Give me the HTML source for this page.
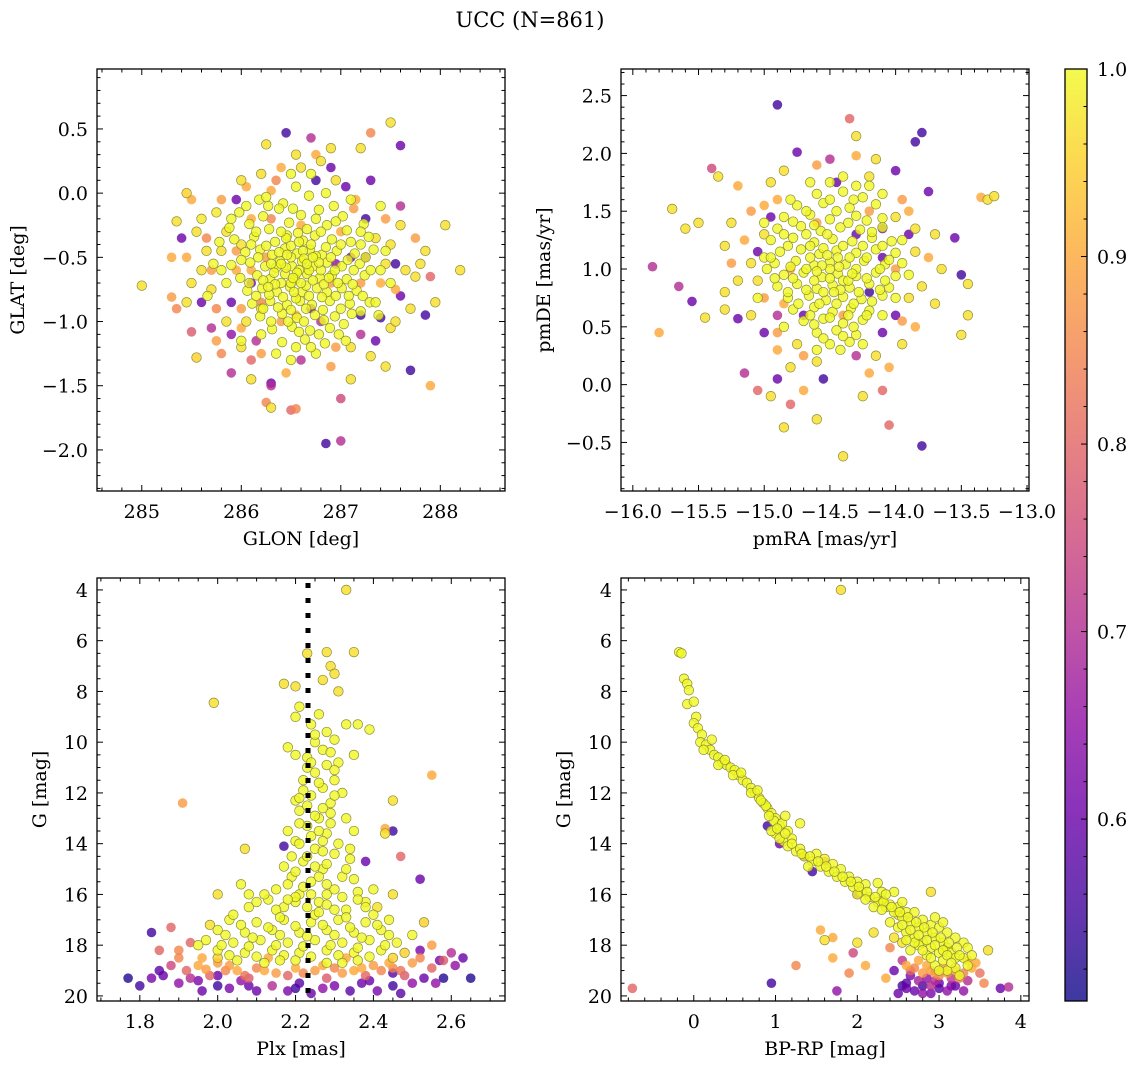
<!DOCTYPE html>
<html><head><meta charset="utf-8"><style>
body{margin:0;background:#fff}
svg{display:block;font-family:"DejaVu Serif","Liberation Serif",serif}
</style></head><body>
<svg id="fig" width="1136" height="1068" viewBox="0 0 1136 1068" xmlns="http://www.w3.org/2000/svg">
<text x="530" y="27" font-size="21" text-anchor="middle">UCC (N=861)</text>
</svg>
<script>
// ---------- DATA: [x, y, membership probability] ----------
const glonGlatOutliers=[[285.0,-0.72,.97],[285.3,-0.81,.88],[285.35,-0.9,.85],[285.5,-1.08,.78],[285.55,-1.28,.95],[285.45,-0.5,.9],[285.4,-0.35,.6],[285.45,0.0,.95],[285.5,-0.05,.9],[285.35,-0.22,.97],[285.6,-0.2,.98],[285.7,-1.05,.7],[285.8,-1.25,.85],[285.75,-0.15,.98],[285.9,-1.4,.7],[286.0,-1.2,.97],[286.0,0.1,.97],[286.1,-1.3,.8],[286.2,0.15,.97],[286.3,-1.5,.7],[286.3,-1.67,.97],[286.25,-1.63,.85],[286.25,0.38,.97],[286.45,0.47,.55],[286.3,-1.48,.6],[286.5,-1.69,.8],[286.55,-1.68,.85],[286.55,0.3,.97],[286.7,0.43,.7],[286.6,0.2,.97],[286.75,0.3,.9],[286.8,0.25,.97],[286.85,-1.95,.55],[286.95,0.1,.97],[287.0,-1.93,.7],[287.0,-1.6,.75],[287.05,0.05,.6],[287.1,-1.2,.97],[287.2,-0.95,.55],[287.2,0.35,.97],[287.3,0.47,.85],[287.3,-1.27,.97],[287.3,0.1,.6],[287.5,0.55,.97],[287.6,0.37,.6],[287.4,-0.97,.55],[287.5,-1.05,.97],[287.45,-1.35,.97],[287.55,-1.0,.97],[287.7,-1.38,.55],[287.75,-0.65,.97],[287.8,-0.55,.97],[287.85,-0.95,.55],[287.9,-1.5,.9],[287.85,-0.45,.97],[287.95,-0.85,.97],[288.05,-0.25,.97],[288.2,-0.6,.97],[287.6,-0.1,.7],[287.5,-0.4,.97],[287.6,-0.8,.6],[287.7,-0.9,.97],[287.4,-0.7,.9],[287.25,-0.2,.55],[287.35,-0.35,.97],[285.6,-0.6,.97],[285.7,-0.75,.97],[285.8,-0.45,.97],[285.9,-0.85,.6],[285.85,-0.3,.97],[285.95,-0.6,.9],[285.65,-0.45,.97],[285.75,-0.9,.85],[285.5,-0.7,.97],[285.55,-0.3,.97],[286.05,-1.0,.97],[286.1,-0.2,.9],[286.15,-1.15,.7],[286.0,-0.4,.97],[286.2,-0.9,.97],[286.1,-0.7,.6],[285.3,-0.5,.9],[285.45,-0.85,.97],[287.6,-0.25,.97],[287.45,-0.55,.97],[287.2,-1.1,.7],[286.0,-1.05,.9],[285.85,-1.0,.97],[287.65,-0.6,.97],[286.9,0.2,.6],[285.65,-0.35,.85],[285.8,-0.05,.88],[285.95,-0.05,.6],[286.05,0.05,.9],[286.35,0.1,.85],[286.75,0.1,.55],[287.15,-0.05,.9],[287.25,-0.5,.6],[287.45,-0.2,.88],[287.55,-0.75,.9],[287.35,-1.15,.6],[286.95,-1.2,.88],[286.6,-1.3,.7],[286.2,-1.25,.88],[285.9,-1.1,.65],[285.7,-0.6,.88],[285.75,-1.15,.88],[286.45,-1.4,.9],[286.9,-1.35,.88],[287.1,-1.45,.97],[287.75,-0.35,.88],[287.9,-0.65,.8],[286.1,-1.45,.97],[285.6,-0.85,.6],[287.55,-0.55,.55],[286.9,0.35,.97],[286.4,0.2,.9]];
const glonGlatCore=[[286.18,-0.05,1],[286.42,-0.08,1],[286.68,-0.02,1],[286.93,-0.1,1],[286.55,0.05,1],[286.3,0.02,.9],[285.98,-0.15,1],[286.22,-0.18,1],[286.38,-0.12,1],[286.6,-0.17,1],[286.78,-0.13,1],[287.02,-0.18,1],[287.13,-0.12,.88],[285.88,-0.27,1],[286.08,-0.24,1],[286.28,-0.28,1],[286.48,-0.23,1],[286.66,-0.28,1],[286.86,-0.25,1],[287.06,-0.29,1],[287.23,-0.24,1],[285.93,-0.36,1],[286.13,-0.34,1],[286.34,-0.38,1],[286.46,-0.33,1],[286.62,-0.37,1],[286.74,-0.33,1],[286.91,-0.36,1],[287.1,-0.38,1],[287.28,-0.34,1],[286.04,-0.46,1],[286.19,-0.44,1],[286.31,-0.48,1],[286.44,-0.43,1],[286.56,-0.47,1],[286.69,-0.44,1],[286.81,-0.48,1],[286.96,-0.45,1],[287.14,-0.47,1],[287.33,-0.44,1],[285.9,-0.56,1],[286.09,-0.54,1],[286.24,-0.57,1],[286.39,-0.53,1],[286.51,-0.57,1],[286.61,-0.53,1],[286.72,-0.57,1],[286.86,-0.54,1],[287.01,-0.57,1],[287.19,-0.55,1],[285.99,-0.66,1],[286.16,-0.64,1],[286.29,-0.67,1],[286.44,-0.63,1],[286.54,-0.67,1],[286.66,-0.63,1],[286.79,-0.66,1],[286.91,-0.64,1],[287.06,-0.67,1],[287.24,-0.64,1],[286.06,-0.76,1],[286.21,-0.74,1],[286.36,-0.77,1],[286.49,-0.73,1],[286.61,-0.77,1],[286.76,-0.74,1],[286.86,-0.77,1],[287.01,-0.74,1],[287.16,-0.76,1],[286.11,-0.86,1],[286.29,-0.84,1],[286.46,-0.87,1],[286.59,-0.84,1],[286.71,-0.87,1],[286.89,-0.84,1],[287.09,-0.86,1],[287.29,-0.85,1],[286.19,-0.96,1],[286.41,-0.94,1],[286.56,-0.97,1],[286.74,-0.95,1],[286.94,-0.96,1],[287.11,-0.94,1],[286.31,-1.06,1],[286.51,-1.04,1],[286.69,-1.07,1],[286.89,-1.05,1],[286.41,-1.16,1],[286.64,-1.14,1],[286.84,-1.17,1],[286.5,-0.5,1],[286.58,-0.6,1],[286.65,-0.72,1],[286.4,-0.7,1],[286.7,-0.4,1],[286.35,-0.58,1],[286.8,-0.6,1],[286.55,-0.82,1],[286.45,-0.35,1],[286.62,-0.45,1],[286.25,-0.5,.88],[286.9,-0.7,.88],[286.2,-0.85,.85],[287.0,-0.3,.9],[286.4,-1.0,.88],[286.7,-0.9,.6],[286.95,-0.55,.65],[286.1,-0.6,.9],[286.55,-0.95,.9],[287.2,-0.7,.88],[286.6,-0.25,.9],[286.0,-0.9,.88],[286.3,-0.2,.85],[286.8,-1.0,.7],[287.1,-0.5,.6],[285.95,-0.45,.88],[286.35,-1.25,1],[286.75,-1.25,1],[286.5,-1.3,1],[286.05,-0.1,1],[286.85,0.0,1],[287.4,-0.6,1],[287.35,-0.85,1],[285.8,-0.6,1],[285.85,-0.7,1]];
const glonGlatCore2=[[286.27,-0.1,1],[286.52,-0.12,1],[286.75,-0.2,1],[286.95,-0.22,1],[286.15,-0.3,1],[286.4,-0.3,1],[286.57,-0.31,1],[286.8,-0.3,1],[287.0,-0.4,1],[287.2,-0.4,1],[286.1,-0.4,1],[286.25,-0.41,1],[286.38,-0.46,1],[286.5,-0.41,1],[286.63,-0.51,1],[286.75,-0.49,1],[286.9,-0.5,1],[287.07,-0.52,1],[287.25,-0.5,1],[286.0,-0.52,1],[286.17,-0.5,1],[286.3,-0.55,1],[286.45,-0.58,1],[286.56,-0.62,1],[286.68,-0.6,1],[286.78,-0.54,1],[286.94,-0.6,1],[287.13,-0.6,1],[287.3,-0.6,1],[286.08,-0.7,1],[286.22,-0.68,1],[286.34,-0.71,1],[286.5,-0.7,1],[286.6,-0.7,1],[286.72,-0.68,1],[286.83,-0.71,1],[286.97,-0.7,1],[287.12,-0.71,1],[286.15,-0.8,1],[286.28,-0.79,1],[286.42,-0.81,1],[286.53,-0.77,1],[286.68,-0.8,1],[286.81,-0.81,1],[286.95,-0.8,1],[287.08,-0.8,1],[287.22,-0.8,1],[286.22,-0.9,1],[286.37,-0.89,1],[286.5,-0.91,1],[286.65,-0.9,1],[286.82,-0.91,1],[287.0,-0.9,1],[287.2,-0.92,1],[286.3,-1.0,1],[286.47,-1.0,1],[286.63,-1.0,1],[286.83,-0.99,1],[287.03,-1.02,1],[286.58,-1.08,1],[286.78,-1.1,1],[286.98,-1.1,1],[286.2,-1.1,1],[286.55,-1.2,1],[286.7,-1.2,1],[287.2,-0.3,1],[285.9,-0.2,1],[285.78,-0.38,1],[285.72,-0.55,1],[285.66,-0.8,1],[287.45,-0.45,1],[287.5,-0.7,1],[287.38,-0.95,1],[286.0,-1.15,1],[287.05,-1.15,1],[286.5,0.15,1],[286.7,0.15,1],[286.25,-0.03,1],[287.1,-0.05,1],[287.4,-0.1,1],[286.4,-0.55,1],[286.66,-0.55,1],[286.52,-0.66,1],[286.46,-0.48,1],[286.72,-0.5,1],[286.58,-0.38,1],[286.33,-0.62,1],[286.85,-0.42,1],[286.27,-0.73,1],[286.88,-0.66,1]];
const pmOutliers=[[-15.85,1.02,.7],[-15.8,0.45,.9],[-15.7,1.52,.97],[-15.65,0.85,.7],[-15.6,1.35,.97],[-15.55,0.72,.6],[-15.5,1.4,.97],[-15.45,0.58,.97],[-15.4,1.87,.75],[-15.35,1.8,.97],[-15.3,1.2,.97],[-15.25,1.4,.97],[-15.2,1.72,.9],[-15.2,0.57,.6],[-15.15,0.1,.7],[-15.1,0.6,.97],[-15.05,-0.05,.8],[-15.0,1.55,.9],[-14.95,-0.1,.97],[-14.9,2.42,.55],[-14.9,0.05,.6],[-14.85,-0.37,.97],[-14.8,-0.17,.8],[-14.75,2.01,.6],[-14.7,-0.05,.9],[-14.6,-0.3,.97],[-14.55,0.05,.55],[-14.5,1.95,.7],[-14.45,1.75,.6],[-14.4,-0.62,.97],[-14.35,2.3,.8],[-14.3,2.15,.97],[-14.3,1.98,.9],[-14.25,-0.1,.97],[-14.2,1.8,.97],[-14.1,-0.05,.8],[-14.05,-0.35,.8],[-14.0,1.85,.6],[-13.85,2.1,.55],[-13.8,2.18,.55],[-13.8,-0.53,.55],[-13.75,1.67,.6],[-13.7,1.3,.97],[-13.65,1.0,.97],[-13.55,1.27,.6],[-13.5,0.95,.55],[-13.45,0.6,.97],[-13.45,0.87,.97],[-13.35,1.62,.9],[-13.3,1.6,.97],[-13.25,1.63,.97],[-13.5,0.43,.97],[-13.9,0.75,.97],[-13.85,0.5,.9],[-13.95,0.35,.97],[-14.0,0.6,.6],[-15.0,0.45,.6],[-15.05,0.9,.97],[-15.1,1.05,.97],[-14.15,0.25,.97],[-14.6,0.2,.97],[-14.75,0.35,.97],[-14.9,0.3,.9],[-13.8,0.85,.97],[-13.85,1.15,.97],[-13.9,1.5,.9],[-14.0,1.45,.97],[-15.0,1.3,.97],[-14.95,1.75,.97],[-14.1,1.35,.6],[-14.9,0.6,.7],[-15.2,0.9,.97],[-15.3,0.8,.97],[-15.15,1.25,.9],[-13.7,0.7,.97],[-13.75,1.1,.9],[-14.05,0.15,.9],[-14.8,0.15,.97],[-15.1,1.5,.88],[-15.05,1.15,.6],[-15.0,0.75,.88],[-14.95,1.45,.6],[-13.95,1.6,.88],[-13.9,1.3,.6],[-13.95,0.55,.88],[-14.1,0.45,.6],[-14.9,0.45,.88],[-14.7,0.25,.88],[-14.3,0.25,.7],[-14.2,0.1,.9],[-14.85,1.85,.97],[-14.6,1.9,.88],[-14.15,1.95,.97],[-13.85,1.35,.97],[-15.25,1.05,.88],[-15.3,0.65,.97]];
const pmCore=[[-14.6,1.65,1],[-14.4,1.67,1],[-14.25,1.62,1],[-14.75,1.55,1],[-14.55,1.57,1],[-14.35,1.53,1],[-14.15,1.56,1],[-14.85,1.45,1],[-14.65,1.47,1],[-14.5,1.43,1],[-14.3,1.46,1],[-14.1,1.44,1],[-14.9,1.35,1],[-14.72,1.37,1],[-14.57,1.33,1],[-14.42,1.36,1],[-14.27,1.34,1],[-14.1,1.36,1],[-14.95,1.25,1],[-14.78,1.27,1],[-14.62,1.23,1],[-14.48,1.26,1],[-14.33,1.24,1],[-14.18,1.27,1],[-14.03,1.24,1],[-14.88,1.15,1],[-14.72,1.17,1],[-14.58,1.13,1],[-14.45,1.16,1],[-14.3,1.14,1],[-14.15,1.17,1],[-14.0,1.14,1],[-14.92,1.05,1],[-14.76,1.07,1],[-14.62,1.03,1],[-14.5,1.06,1],[-14.38,1.04,1],[-14.24,1.07,1],[-14.08,1.04,1],[-14.85,0.95,1],[-14.7,0.97,1],[-14.56,0.93,1],[-14.44,0.96,1],[-14.3,0.94,1],[-14.15,0.97,1],[-14.0,0.94,1],[-14.9,0.85,1],[-14.75,0.87,1],[-14.6,0.83,1],[-14.48,0.86,1],[-14.35,0.84,1],[-14.2,0.87,1],[-14.05,0.84,1],[-14.82,0.75,1],[-14.66,0.77,1],[-14.53,0.73,1],[-14.4,0.76,1],[-14.26,0.74,1],[-14.1,0.77,1],[-14.78,0.65,1],[-14.62,0.67,1],[-14.48,0.63,1],[-14.34,0.66,1],[-14.2,0.64,1],[-14.7,0.55,1],[-14.55,0.57,1],[-14.4,0.53,1],[-14.25,0.56,1],[-14.6,0.45,1],[-14.45,0.47,1],[-14.3,0.43,1],[-14.5,0.35,1],[-14.35,0.37,1],[-14.5,1.0,1],[-14.4,0.9,1],[-14.55,0.8,1],[-14.35,1.1,1],[-14.65,1.2,1],[-14.9,1.6,.9],[-14.2,1.5,.88],[-14.8,1.0,.88],[-14.1,1.1,.6],[-14.7,0.6,.6],[-14.2,0.8,.55],[-14.6,1.4,.88],[-14.4,0.6,.88],[-14.0,1.0,.88],[-14.85,0.7,.9],[-14.3,1.3,.6],[-14.65,1.75,1],[-14.4,1.8,1],[-14.2,1.72,1],[-15.0,1.1,1],[-15.05,0.75,1],[-13.95,1.25,1],[-13.9,0.95,1]];
const pmCore2=[[-14.5,1.6,1],[-14.32,1.6,1],[-14.68,1.5,1],[-14.45,1.5,1],[-14.22,1.42,1],[-14.78,1.41,1],[-14.62,1.38,1],[-14.36,1.4,1],[-14.18,1.32,1],[-14.85,1.3,1],[-14.68,1.3,1],[-14.52,1.3,1],[-14.4,1.2,1],[-14.25,1.2,1],[-14.1,1.2,1],[-14.82,1.2,1],[-14.55,1.18,1],[-14.95,1.1,1],[-14.65,1.1,1],[-14.52,1.12,1],[-14.22,1.1,1],[-14.05,1.08,1],[-14.8,1.02,1],[-14.68,1.0,1],[-14.43,1.02,1],[-14.3,1.0,1],[-14.12,1.0,1],[-14.92,0.92,1],[-14.78,0.92,1],[-14.62,0.9,1],[-14.5,0.92,1],[-14.36,0.9,1],[-14.22,0.92,1],[-14.08,0.9,1],[-14.82,0.8,1],[-14.68,0.82,1],[-14.42,0.82,1],[-14.28,0.8,1],[-14.12,0.82,1],[-14.74,0.7,1],[-14.58,0.7,1],[-14.45,0.7,1],[-14.32,0.7,1],[-14.18,0.72,1],[-14.65,0.6,1],[-14.5,0.58,1],[-14.36,0.6,1],[-14.22,0.6,1],[-14.62,0.52,1],[-14.32,0.5,1],[-14.55,0.4,1],[-14.4,0.42,1],[-14.42,0.3,1],[-14.6,0.3,1],[-14.25,0.35,1],[-14.85,0.5,1],[-14.1,0.6,1],[-14.0,0.75,1],[-13.95,1.05,1],[-14.98,1.0,1],[-15.0,1.4,1],[-14.8,1.6,1],[-14.5,1.75,1],[-14.3,1.72,1],[-14.1,1.65,1],[-14.56,1.03,1],[-14.44,1.1,1],[-14.47,0.8,1],[-14.6,0.98,1],[-14.33,0.96,1]];
const plxGBright=[[2.33,4.0,.97],[2.28,6.45,.97],[2.35,6.45,.97],[2.23,6.5,.97],[1.99,8.45,.97],[2.2,7.8,.97],[2.17,7.7,.97],[2.29,7.0,.97],[2.3,7.3,.97],[2.27,7.55,.97],[2.31,8.0,.97],[1.91,12.4,.88],[2.55,11.3,.9],[2.45,13.5,.55],[2.45,12.3,.97],[2.43,13.4,.9],[2.38,14.7,.6],[2.47,14.5,.8],[2.52,15.4,.6],[2.41,16.5,.97],[2.07,14.2,.97],[2.17,14.1,.55],[2.0,16.0,.97],[1.83,17.5,.55],[1.88,17.3,.8],[2.43,13.6,.97],[2.26,8.9,1],[2.24,9.3,1],[2.28,9.6,1],[2.25,10.0,1],[2.27,10.3,1],[2.23,10.6,1],[2.28,10.9,1],[2.25,11.2,1],[2.22,11.5,1],[2.27,11.8,1],[2.24,12.1,1],[2.29,12.4,1],[2.21,12.7,1],[2.26,13.0,1],[2.23,13.3,1],[2.28,13.6,1],[2.2,13.9,1],[2.25,14.2,1],[2.3,14.4,1],[2.22,14.7,1],[2.27,15.0,1],[2.19,15.3,1],[2.24,15.5,1],[2.3,15.8,1],[2.21,16.0,1],[2.26,16.3,1],[2.17,16.5,1],[2.33,16.6,1],[2.2,10.5,1],[2.3,11.5,1],[2.32,12.0,1],[2.2,12.3,1],[2.33,13.0,1],[2.18,13.5,1],[2.31,14.0,1],[2.34,14.6,1],[2.17,14.9,1],[2.32,15.3,1],[2.35,10.5,1],[2.36,9.3,1],[2.33,9.3,1],[2.2,9.0,1],[2.21,8.6,1],[2.18,10.2,1],[2.39,9.5,1],[2.3,9.9,1],[2.31,10.8,1],[2.22,11.9,1],[2.29,12.8,1],[2.24,13.7,1],[2.28,14.8,1],[2.22,15.7,1],[2.15,15.8,1],[2.36,15.9,1],[2.23,11.0,1],[2.27,12.6,1],[2.24,10.8,1],[2.26,11.6,1],[2.21,12.2,1],[2.25,12.9,1],[2.21,13.2,1],[2.26,13.5,1],[2.21,14.0,1],[2.27,14.3,1],[2.23,14.5,1],[2.25,14.9,1],[2.2,15.1,1],[2.26,15.3,1],[2.28,15.6,1],[2.18,15.6,1],[2.32,16.1,1],[2.24,16.0,1],[2.28,16.4,1],[2.2,16.3,1],[2.13,16.2,1],[2.35,15.4,1],[2.34,14.2,1],[2.35,13.5,1],[2.19,14.5,1],[2.29,13.2,1],[2.3,11.1,1],[2.29,10.4,1],[2.25,9.7,1],[2.23,12.5,1],[2.3,12.1,1],[2.27,13.9,1],[2.33,15.0,1],[2.38,16.3,1]];
const plxGFaint=[[2.12,16.0,1],[2.2,16.1,1],[2.28,16.0,1],[2.36,16.2,1],[2.08,16.5,1],[2.15,16.6,1],[2.23,16.5,1],[2.3,16.6,1],[2.38,16.5,1],[2.03,17.0,1],[2.1,17.1,1],[2.17,17.0,1],[2.24,17.1,1],[2.31,17.0,1],[2.38,17.1,1],[2.44,17.0,1],[2.0,17.4,1],[2.07,17.5,1],[2.14,17.4,1],[2.21,17.5,1],[2.28,17.4,1],[2.35,17.5,1],[2.42,17.4,1],[1.97,17.8,1],[2.04,17.9,1],[2.11,17.8,1],[2.18,17.9,1],[2.25,17.8,1],[2.32,17.9,1],[2.39,17.8,1],[2.46,17.9,1],[2.0,18.2,1],[2.07,18.3,1],[2.14,18.2,1],[2.21,18.3,1],[2.28,18.2,1],[2.35,18.3,1],[2.42,18.2,1],[2.05,18.6,1],[2.12,18.7,1],[2.2,18.6,1],[2.28,18.7,1],[2.36,18.6,1],[2.5,17.6,1],[1.95,18.0,1],[2.48,18.3,.95],[2.16,16.9,1],[2.25,16.8,1],[2.04,16.8,1],[2.4,16.8,1],[2.45,16.0,.97],[1.98,17.2,.97],[2.53,17.1,.95],[2.1,16.3,1],[2.18,16.2,1],[2.26,16.7,1],[2.33,16.9,1],[2.06,17.2,1],[2.13,17.3,1],[2.2,17.25,1],[2.27,17.2,1],[2.34,17.3,1],[2.41,17.2,1],[2.02,17.6,1],[2.09,17.7,1],[2.16,17.6,1],[2.23,17.65,1],[2.3,17.6,1],[2.37,17.7,1],[2.44,17.6,1],[2.01,18.0,1],[2.08,18.05,1],[2.15,18.0,1],[2.22,18.05,1],[2.29,18.0,1],[2.36,18.1,1],[2.43,18.0,1],[2.03,18.4,1],[2.1,18.45,1],[2.17,18.4,1],[2.24,18.45,1],[2.31,18.4,1],[2.39,18.45,1],[2.16,18.6,1],[2.32,18.7,1],[2.0,18.5,.95],[2.45,18.5,.95],[2.08,16.0,1],[2.06,15.6,1],[2.4,15.8,1]];
const plxGBand=[[1.9,18.5,.85],[1.95,18.8,.9],[2.0,18.7,.88],[2.05,19.0,.9],[2.1,18.9,.85],[2.15,19.1,.88],[2.2,18.9,.9],[2.25,19.0,.88],[2.3,18.9,.85],[2.35,19.0,.9],[2.4,18.8,.88],[2.45,18.9,.85],[2.5,18.7,.88],[2.55,18.9,.8],[1.85,18.2,.8],[1.88,18.8,.75],[1.92,19.0,.8],[1.98,19.2,.8],[2.08,19.3,.78],[2.18,19.2,.8],[2.28,19.3,.78],[2.38,19.2,.8],[2.48,19.2,.78],[2.58,18.6,.78],[1.93,17.9,.8],[2.55,18.0,.88],[2.6,18.3,.7],[2.02,19.0,.85],[2.42,19.0,.85],[2.13,18.5,.9],[2.33,18.5,.9],[1.96,18.5,.9],[2.03,18.8,.88],[2.12,19.0,.9],[2.22,19.1,.85],[2.32,19.1,.88],[2.44,18.7,.9],[2.52,18.5,.85],[1.9,18.2,.85],[2.07,19.2,.82],[2.27,18.8,.9],[2.37,18.9,.9],[2.47,19.0,.82],[1.97,18.95,.88]];
const plxGFaintest=[[1.77,19.3,.52],[1.8,19.6,.55],[1.83,19.3,.62],[1.86,19.2,.6],[1.9,19.5,.65],[1.93,19.3,.7],[1.96,19.8,.6],[2.0,19.6,.55],[2.03,19.7,.62],[2.06,19.4,.65],[2.1,19.8,.6],[2.14,19.6,.7],[2.18,19.8,.62],[2.21,19.5,.58],[2.24,19.9,.6],[2.27,19.7,.65],[2.3,19.6,.62],[2.34,19.8,.58],[2.37,19.5,.6],[2.41,19.8,.62],[2.45,19.6,.55],[2.47,19.9,.58],[2.5,19.5,.65],[2.53,19.3,.6],[2.56,19.5,.65],[2.58,19.3,.52],[2.61,18.8,.65],[2.63,18.5,.6],[2.65,19.3,.52],[2.52,18.2,.62],[2.57,18.6,.62],[1.85,19.0,.58],[1.95,19.4,.62],[2.08,19.6,.6],[2.2,19.7,.55],[2.39,19.4,.6],[2.45,19.1,.58],[2.0,19.2,.6]];
const cmdSequence=[[1.8,4.0,.97],[-0.18,6.45,1],[-0.15,6.5,1],[-0.12,7.5,1],[-0.08,7.7,1],[-0.06,7.95,1],[-0.08,8.5,1],[0.0,8.4,1],[0.03,9.0,1],[0.0,9.25,1],[0.05,9.45,1],[0.1,9.7,1],[0.08,10.0,1],[0.15,10.1,1],[0.2,10.3,1],[0.25,10.5,1],[0.3,10.6,1],[0.35,10.8,1],[0.4,10.9,1],[0.45,11.0,1],[0.5,11.1,1],[0.55,11.3,1],[0.6,11.5,1],[0.65,11.6,1],[0.7,11.8,1],[0.75,12.0,1],[0.8,12.2,1],[0.85,12.4,1],[0.9,12.6,1],[0.95,12.8,1],[1.0,13.0,1],[1.05,13.3,1],[1.0,13.6,1],[1.1,13.9,1],[1.15,14.1,1],[1.25,14.3,1],[1.35,14.5,1],[1.45,14.7,1],[1.55,14.9,1],[1.65,15.1,1],[1.75,15.3,1],[1.85,15.5,1],[1.95,15.7,1],[2.05,15.9,1],[2.15,16.1,1],[2.25,16.3,1],[2.35,16.5,1],[2.45,16.7,1],[2.55,16.9,1],[2.65,17.1,1],[2.75,17.3,1],[2.85,17.5,1],[2.95,17.7,1],[3.05,17.9,1],[3.1,18.1,1],[3.15,18.3,1],[3.2,18.5,1],[0.12,10.3,1],[0.3,10.9,1],[0.48,11.3,1],[0.7,12.0,1],[0.88,12.5,1],[0.98,13.1,1],[1.08,13.2,1],[0.95,13.5,1],[1.15,13.5,1],[1.2,13.8,1],[1.05,13.8,1],[1.3,14.2,1],[1.5,14.4,1],[1.6,14.6,1],[1.4,14.9,1],[1.7,14.8,1],[1.8,15.0,1],[1.9,15.3,1],[2.0,15.5,1],[2.1,15.6,1],[2.25,15.55,1],[2.3,15.9,1],[2.45,15.9,1],[2.0,16.0,1],[2.2,16.5,1],[2.4,16.4,1],[2.5,16.5,1],[2.6,16.7,1],[2.7,16.7,1],[2.8,17.0,1],[2.9,17.2,1],[3.0,17.3,1],[3.1,17.5,1],[3.2,17.7,1],[3.3,17.9,1],[3.35,18.1,1],[2.4,17.1,1],[2.5,17.3,1],[2.6,17.5,1],[2.7,17.7,1],[2.8,17.9,1],[2.9,18.1,1],[3.0,18.3,1],[3.05,18.6,1],[3.2,18.9,1],[3.3,18.5,1],[2.95,18.8,1],[2.85,18.4,1],[2.75,18.0,1],[2.65,18.2,1],[3.1,19.0,1],[3.25,19.2,1],[3.6,18.2,.97],[1.6,17.8,.97],[1.7,17.7,.9],[1.55,17.4,.9],[2.0,17.9,.97],[2.2,17.5,.97],[2.45,17.7,.97],[2.9,15.9,.97],[2.3,16.2,.97],[2.5,16.8,.97],[1.12,12.9,1],[1.3,13.2,1],[0.22,9.9,1],[2.55,17.9,.97],[0.38,10.7,1],[0.58,11.2,1],[0.78,11.9,1],[0.82,12.3,1],[0.92,12.9,1],[1.02,13.4,1],[1.12,13.6,1],[1.2,14.0,1],[1.32,14.4,1],[1.42,14.5,1],[1.52,14.7,1],[1.62,14.9,1],[1.72,15.1,1],[1.82,15.3,1],[1.92,15.5,1],[2.02,15.7,1],[2.12,15.9,1],[2.22,16.1,1],[2.32,16.3,1],[2.42,16.5,1],[2.52,16.7,1],[2.62,16.9,1],[2.72,17.1,1],[2.82,17.3,1],[2.92,17.5,1],[3.02,17.7,1],[3.12,17.9,1],[3.22,18.1,1],[2.85,17.8,1],[2.95,18.0,1],[3.05,18.2,1],[3.1,18.4,1],[3.25,18.4,1],[3.15,18.7,1],[2.9,18.5,1],[2.8,18.2,1],[2.7,17.9,1],[2.6,17.8,1],[2.55,17.2,1],[2.65,17.4,1],[2.75,17.6,1],[3.0,19.0,1],[3.35,18.8,1],[3.4,18.4,1],[2.95,16.9,1],[3.05,17.1,1],[2.3,16.6,1],[2.1,16.2,1],[2.35,16.0,1],[2.55,16.3,1]];
const cmdFaint=[[1.6,14.7,.8],[1.35,14.5,.55],[1.05,14.0,.6],[0.9,13.3,.55],[1.45,15.1,.55],[2.0,16.0,.65],[-0.75,19.7,.8],[0.95,19.5,.55],[1.25,18.8,.85],[1.7,18.5,.9],[1.75,19.8,.65],[1.9,19.1,.85],[2.35,19.3,.9],[2.1,18.8,.9],[1.95,18.3,.75],[3.85,19.65,.7],[3.75,19.7,.6],[2.6,19.5,.58],[2.7,19.8,.6],[2.8,19.6,.55],[2.9,19.9,.62],[3.0,19.7,.58],[3.1,19.8,.65],[3.2,19.6,.6],[3.3,19.8,.65],[2.5,19.9,.6],[2.65,19.2,.62],[2.75,19.4,.68],[2.95,19.4,.7],[3.15,19.3,.72],[3.35,19.4,.7],[2.55,19.6,.55],[2.85,19.3,.65],[2.7,18.9,.85],[2.8,19.1,.88],[2.9,19.0,.88],[3.0,19.2,.85],[3.1,19.1,.88],[3.2,19.0,.9],[3.3,19.1,.85],[3.4,18.9,.9],[3.5,19.1,.82],[3.45,18.7,.9],[3.55,19.5,.85],[2.6,18.8,.9],[2.75,18.6,.9],[3.35,18.6,.9],[2.4,18.1,.85],[2.55,18.6,.72],[2.45,19.0,.6],[2.85,18.8,.9],[2.95,19.1,.88],[3.05,18.9,.9],[3.25,19.3,.85],[2.65,19.0,.8],[2.6,19.7,.6],[2.8,19.9,.65],[3.0,19.5,.6],[3.15,19.6,.62],[2.9,19.6,.7]];

// ---------- helpers ----------
const NS='http://www.w3.org/2000/svg';
const svg=document.getElementById('fig');
const stops=[[0,[13,8,135]],[.1,[65,4,157]],[.2,[106,0,168]],[.3,[143,13,164]],[.4,[177,42,144]],[.5,[204,71,120]],[.6,[225,100,98]],[.7,[242,132,75]],[.8,[252,166,54]],[.9,[252,206,37]],[1,[240,249,33]]];
const PMIN=0.503,PMAX=1.0;
const FS=19;
function plasma(p){let t=Math.max(0,Math.min(1,(p-PMIN)/(PMAX-PMIN)));for(let i=1;i<stops.length;i++){if(t<=stops[i][0]){const a=stops[i-1],b=stops[i],f=(t-a[0])/(b[0]-a[0]);return 'rgb('+a[1].map((v,k)=>Math.round(v+(b[1][k]-v)*f)).join(',')+')';}}return 'rgb(240,249,33)';}
function mk(tag,attrs,parent){const e=document.createElementNS(NS,tag);for(const k in attrs)e.setAttribute(k,attrs[k]);(parent||svg).appendChild(e);return e;}
function fmt(v,d){let s=v.toFixed(d);if(v<-1e-9)s='\u2212'+s.slice(1);if(Math.abs(v)<1e-9)s=(0).toFixed(d);return s;}

function panel(cfg){
  const g=mk('g',{});
  
  
  const sx=v=>cfg.x0+(v-cfg.xd[0])/(cfg.xd[1]-cfg.xd[0])*(cfg.x1-cfg.x0);
  const sy=v=>cfg.y0+(v-cfg.yd[0])/(cfg.yd[1]-cfg.yd[0])*(cfg.y1-cfg.y0);
  const pts=[].concat(...cfg.data).slice().sort((a,b)=>a[2]-b[2]);
  const pg=mk('g',{},g);
  
  
  pts.forEach(d=>{
    const c=mk('circle',{cx:sx(d[0]).toFixed(1),cy:sy(d[1]).toFixed(1),r:4.8,fill:plasma(d[2]),'fill-opacity':0.8},pg);
    if(d[2]>=0.95){c.setAttribute('stroke','#8c8c3a');c.setAttribute('stroke-width','0.7');}
    
    
  });
  if(cfg.vline!==undefined){
    const l=mk('line',{x1:sx(cfg.vline),x2:sx(cfg.vline),y1:cfg.y0+5,y2:cfg.y1,stroke:'#000','stroke-width':5,'stroke-dasharray':'5 10'},g);
    
    
  }
  const fr=mk('rect',{x:cfg.x0,y:cfg.y0,width:cfg.x1-cfg.x0,height:cfg.y1-cfg.y0,fill:'none',stroke:'#000','stroke-width':1.3},g);
  
  
  const xlo=Math.min(...cfg.xd),xhi=Math.max(...cfg.xd),ylo=Math.min(...cfg.yd),yhi=Math.max(...cfg.yd);
  const tg=mk('g',{stroke:'#000','stroke-width':1},g);
  for(let v=Math.ceil(xlo/cfg.xmin-1e-6)*cfg.xmin;v<=xhi+1e-9;v+=cfg.xmin){const major=Math.abs(v/cfg.xmaj-Math.round(v/cfg.xmaj))<1e-4;const L=major?6:3.5;const X=sx(v);mk('line',{x1:X,x2:X,y1:cfg.y1,y2:cfg.y1-L},tg);mk('line',{x1:X,x2:X,y1:cfg.y0,y2:cfg.y0+L},tg);}
  for(let v=Math.ceil(ylo/cfg.ymin-1e-6)*cfg.ymin;v<=yhi+1e-9;v+=cfg.ymin){const major=Math.abs(v/cfg.ymaj-Math.round(v/cfg.ymaj))<1e-4;const L=major?6:3.5;const Y=sy(v);mk('line',{x1:cfg.x0,x2:cfg.x0+L,y1:Y,y2:Y},tg);mk('line',{x1:cfg.x1,x2:cfg.x1-L,y1:Y,y2:Y},tg);}
  cfg.xticks.forEach(v=>{const t=mk('text',{x:sx(v),y:cfg.y1+27,'font-size':FS,'text-anchor':'middle'},g);t.textContent=fmt(v,cfg.xdec);});
  cfg.yticks.forEach(v=>{const t=mk('text',{x:cfg.x0-9,y:sy(v)+7,'font-size':FS,'text-anchor':'end'},g);t.textContent=fmt(v,cfg.ydec);});
  const xl=mk('text',{x:(cfg.x0+cfg.x1)/2,y:cfg.y1+54,'font-size':FS,'text-anchor':'middle'},g);xl.textContent=cfg.xlabel;
  
  
  const yl=mk('text',{x:cfg.ylx,y:(cfg.y0+cfg.y1)/2,'font-size':FS,'text-anchor':'middle',transform:'rotate(-90 '+cfg.ylx+' '+(cfg.y0+cfg.y1)/2+')'},g);yl.textContent=cfg.ylabel;
  
  
}

const glonTicks=[285,286,287,288],glatTicks=[0.5,0,-0.5,-1,-1.5,-2];
const pmraTicks=[-16,-15.5,-15,-14.5,-14,-13.5,-13],pmdeTicks=[2.5,2,1.5,1,0.5,0,-0.5];
const plxTicks=[1.8,2.0,2.2,2.4,2.6],gTicks=[4,6,8,10,12,14,16,18,20],bprpTicks=[0,1,2,3,4];
const plxMedian=2.232;

panel({name:'glon-glat-panel',x0:97,x1:505,y0:69,y1:491,xd:[284.55,288.65],yd:[0.967,-2.32],xmaj:1,xmin:0.2,ymaj:0.5,ymin:0.1,xticks:glonTicks,yticks:glatTicks,xdec:0,ydec:1,xlabel:'GLON [deg]',ylabel:'GLAT [deg]',ylx:24,data:[glonGlatOutliers,glonGlatCore,glonGlatCore2]});
panel({name:'propermotion-panel',x0:621,x1:1029,y0:69,y1:491,xd:[-16.09,-12.985],yd:[2.73,-0.92],xmaj:0.5,xmin:0.1,ymaj:0.5,ymin:0.1,xticks:pmraTicks,yticks:pmdeTicks,xdec:1,ydec:1,xlabel:'pmRA [mas/yr]',ylabel:'pmDE [mas/yr]',ylx:550,data:[pmOutliers,pmCore,pmCore2]});
panel({name:'parallax-mag-panel',x0:97,x1:505,y0:578,y1:1001,xd:[1.69,2.738],yd:[3.53,20.2],xmaj:0.2,xmin:0.05,ymaj:2,ymin:0.5,xticks:plxTicks,yticks:gTicks,xdec:1,ydec:0,xlabel:'Plx [mas]',ylabel:'G [mag]',ylx:46,vline:plxMedian,data:[plxGBright,plxGFaint,plxGBand,plxGFaintest]});
panel({name:'cmd-panel',x0:621,x1:1029,y0:578,y1:1001,xd:[-0.89,4.1],yd:[3.53,20.2],xmaj:1,xmin:0.2,ymaj:2,ymin:0.5,xticks:bprpTicks,yticks:gTicks,xdec:0,ydec:0,xlabel:'BP-RP [mag]',ylabel:'G [mag]',ylx:570,data:[cmdSequence,cmdFaint]});

// ---------- colorbar ----------
const cbTicks=[0.6,0.7,0.8,0.9,1.0];
(function(){
  const x0=1065,x1=1087,y0=69,y1=1001;
  const cy=v=>y1-(v-PMIN)/(PMAX-PMIN)*(y1-y0);
  const defs=mk('defs',{});
  const lg=mk('linearGradient',{id:'cbg',x1:0,y1:1,x2:0,y2:0},defs);
  stops.forEach(s=>mk('stop',{offset:s[0],'stop-color':'rgb('+s[1].join(',')+')','stop-opacity':0.8},lg));
  const g=mk('g',{});
  
  
  mk('rect',{x:x0,y:y0,width:x1-x0,height:y1-y0,fill:'url(#cbg)',stroke:'#000','stroke-width':1.3},g);
  for(let v=0.52;v<=1.0001;v+=0.02){const major=Math.abs(v*10-Math.round(v*10))<1e-4;const L=major?6:3.5;mk('line',{x1:x1,x2:x1-L,y1:cy(v),y2:cy(v),stroke:'#000','stroke-width':1},g);}
  cbTicks.forEach(v=>{const t=mk('text',{x:x1+10,y:cy(v)+7,'font-size':FS},g);t.textContent=v.toFixed(1);});
})();
</script>
</body></html>
